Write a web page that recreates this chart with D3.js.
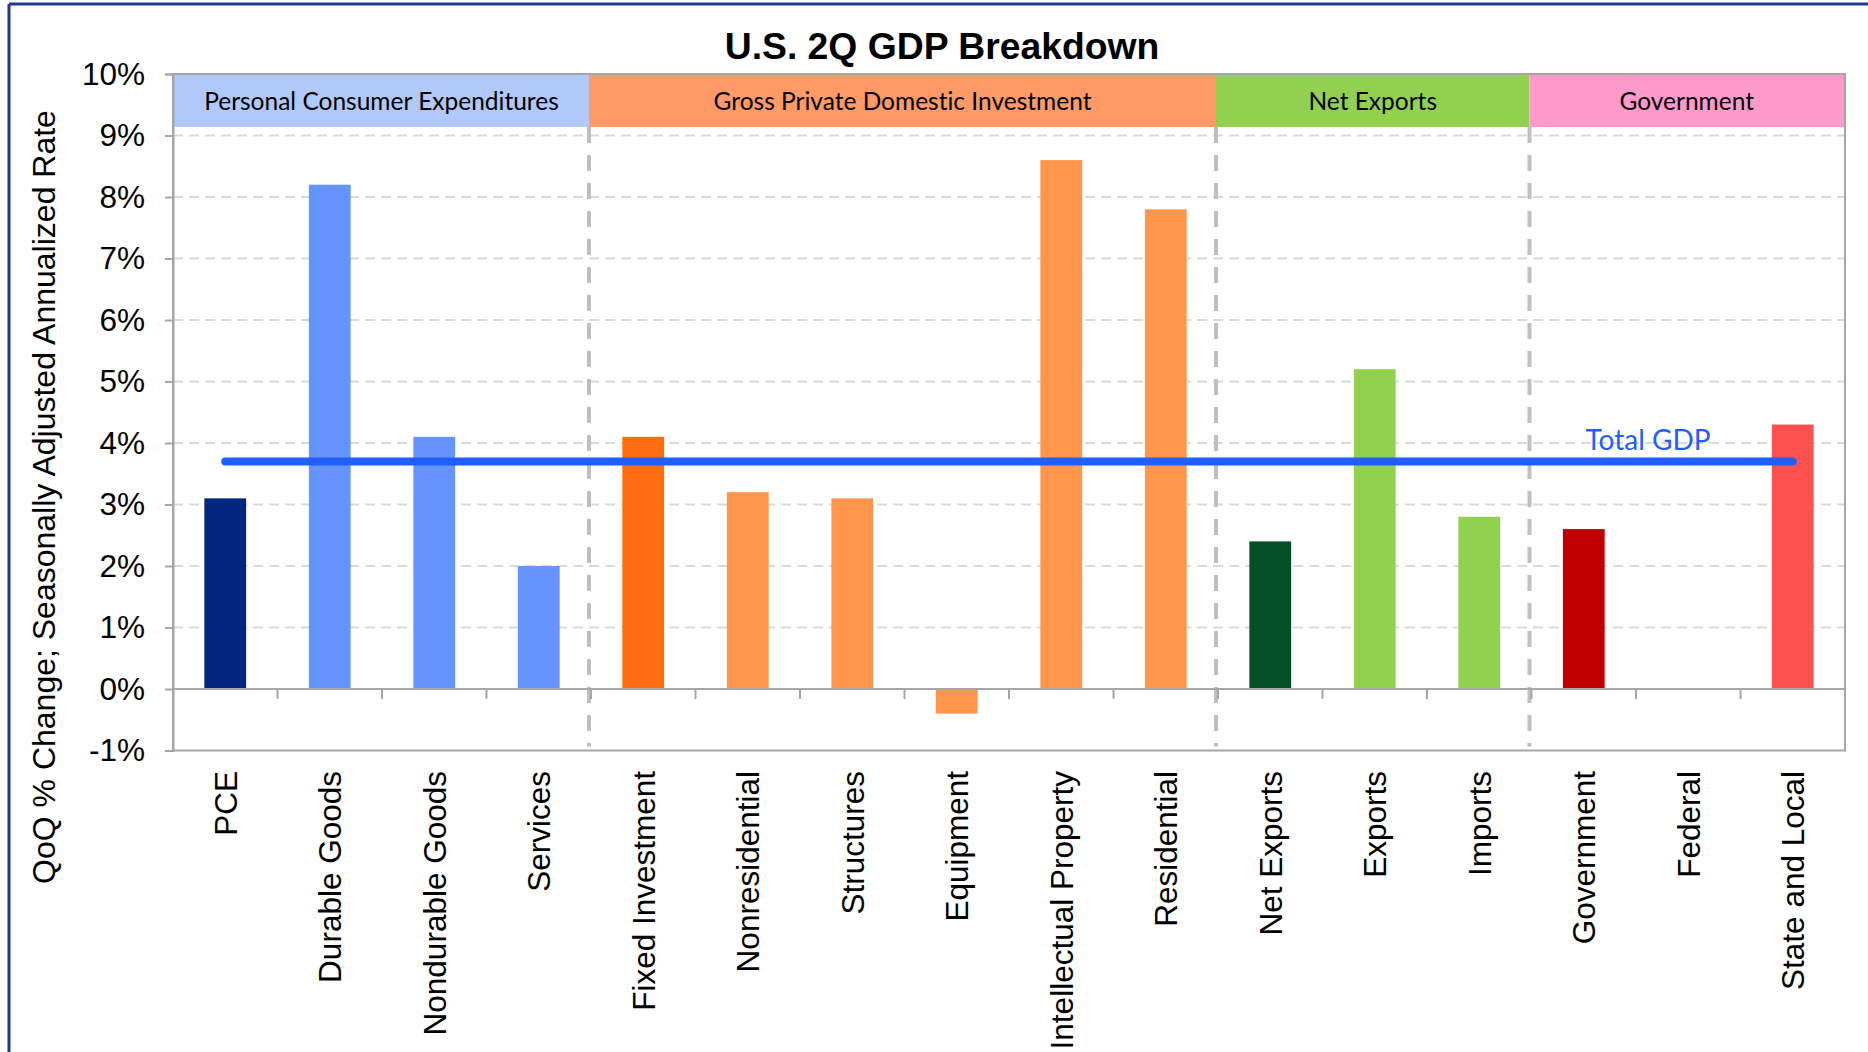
<!DOCTYPE html>
<html>
<head>
<meta charset="utf-8">
<script src="https://cdn.jsdelivr.net/npm/d3@7"></script>
<style>
  html, body { margin: 0; padding: 0; background: #fff; }
  svg { display: block; }
  text { font-variant-ligatures: none; font-feature-settings: "liga" 0, "dlig" 0; }
</style>
</head>
<body>
<svg id="chart" width="1868" height="1052"></svg>
<script>
const categories = ["PCE", "Durable Goods", "Nondurable Goods", "Services",
  "Fixed Investment", "Nonresidential", "Structures", "Equipment", "Intellectual Property", "Residential",
  "Net Exports", "Exports", "Imports",
  "Government", "Federal", "State and Local"];
const values = [3.1, 8.2, 4.1, 2.0, 4.1, 3.2, 3.1, -0.4, 8.6, 7.8, 2.4, 5.2, 2.8, 2.6, 0.0, 4.3];
const barColors = ["#00267F", "#6694FF", "#6694FF", "#6694FF",
  "#FF6C10", "#FF964C", "#FF964C", "#FF964C", "#FF964C", "#FF964C",
  "#035026", "#92D050", "#92D050",
  "#C00000", "#FF5050", "#FF5050"];
const groupNames = ["Personal Consumer Expenditures", "Gross Private Domestic Investment", "Net Exports", "Government"];
const groupSizes = [4, 6, 3, 3];
const groupColors = ["#B0C8FA", "#FF9966", "#92D050", "#FF99CC"];
const yTicks = [-1, 0, 1, 2, 3, 4, 5, 6, 7, 8, 9, 10];
const totalGDP = 3.7;
const titleText = "U.S. 2Q GDP Breakdown";
const yTitle = "QoQ % Change; Seasonally Adjusted Annualized Rate";
const lineLabel = "Total GDP";

(function () {
const svg = d3.select("#chart");
const mLeft = 173, mRight = 1845, mTop = 74, mBottom = 750.5;

const x = d3.scaleBand().domain(categories).range([mLeft, mRight]).paddingInner(0.6).paddingOuter(0.3);
const y = d3.scaleLinear().domain([-1, 10]).range([mBottom, mTop]);
const step = x.step();

// outer frame (top & left)
svg.append("line").attr("x1", 9).attr("x2", 1868).attr("y1", 4).attr("y2", 4)
  .attr("stroke", "#1F3C8F").attr("stroke-width", 3);
svg.append("line").attr("x1", 9).attr("x2", 9).attr("y1", 4).attr("y2", 1052)
  .attr("stroke", "#1F3C8F").attr("stroke-width", 3);

// title
svg.append("text").attr("x", 942).attr("y", 59).attr("text-anchor", "middle")
  .attr("font-family", "Liberation Sans, Arial, sans-serif").attr("font-weight", "bold")
  .attr("font-size", 37.3).attr("fill", "#000").text(titleText);

// gridlines
svg.append("g").selectAll("line").data(yTicks.filter(d => d > 0 && d < 10)).join("line")
  .attr("x1", mLeft).attr("x2", mRight).attr("y1", d => y(d)).attr("y2", d => y(d))
  .attr("stroke", "#D9D9D9").attr("stroke-width", 2).attr("stroke-dasharray", "10,6");

// group separators (dashed verticals)
let cum = 0;
const bounds = groupSizes.map(s => { const start = cum; cum += s; return { start, end: cum }; });
svg.append("g").selectAll("line").data(bounds.slice(1)).join("line")
  .attr("x1", d => mLeft + d.start * step - 2).attr("x2", d => mLeft + d.start * step - 2)
  .attr("y1", mTop + 53).attr("y2", mBottom - 4)
  .attr("stroke", "#BFBFBF").attr("stroke-width", 4).attr("stroke-dasharray", "16,12");

// plot border
svg.append("rect").attr("x", mLeft).attr("y", mTop).attr("width", mRight - mLeft).attr("height", mBottom - mTop)
  .attr("fill", "none").attr("stroke", "#A6A6A6").attr("stroke-width", 2);

// group headers
const hdr = svg.append("g");
bounds.forEach((b, i) => {
  const x0 = mLeft + b.start * step + (i === 0 ? 1 : -2), x1 = mLeft + b.end * step - (i === bounds.length - 1 ? 1 : 2);
  hdr.append("rect").attr("x", x0).attr("y", mTop + 1).attr("width", x1 - x0).attr("height", 52)
    .attr("fill", groupColors[i]);
  hdr.append("text").attr("x", (x0 + x1) / 2).attr("y", mTop + 36).attr("text-anchor", "middle")
    .attr("font-family", "Lato, sans-serif").attr("font-size", 24.5).attr("fill", "#000")
    .text(groupNames[i]);
});

// bars
svg.append("g").selectAll("rect").data(categories).join("rect")
  .attr("x", d => x(d))
  .attr("width", x.bandwidth())
  .attr("y", (d, i) => y(Math.max(0, values[i])))
  .attr("height", (d, i) => Math.abs(y(values[i]) - y(0)))
  .attr("fill", (d, i) => barColors[i]);

// zero axis line & category ticks
svg.append("line").attr("x1", mLeft).attr("x2", mRight).attr("y1", y(0)).attr("y2", y(0))
  .attr("stroke", "#A6A6A6").attr("stroke-width", 2);
svg.append("g").selectAll("line").data(d3.range(categories.length + 1)).join("line")
  .attr("x1", i => mLeft + i * step).attr("x2", i => mLeft + i * step)
  .attr("y1", y(0)).attr("y2", y(0) + 10)
  .attr("stroke", "#A6A6A6").attr("stroke-width", 2);

// y axis
const yAxis = svg.append("g").attr("transform", `translate(${mLeft},0)`)
  .call(d3.axisLeft(y).tickValues(yTicks).tickFormat(d => d + "%").tickSize(8).tickPadding(20));
yAxis.select(".domain").attr("stroke", "#A6A6A6").attr("stroke-width", 2);
yAxis.selectAll(".tick line").attr("stroke", "#A6A6A6").attr("stroke-width", 2);
yAxis.selectAll(".tick text").attr("font-family", "Liberation Sans, Arial, sans-serif")
  .attr("font-size", 31.5).attr("fill", "#000");

// total GDP line
svg.append("line")
  .attr("x1", x(categories[0]) + x.bandwidth() / 2)
  .attr("x2", x(categories[categories.length - 1]) + x.bandwidth() / 2)
  .attr("y1", y(totalGDP)).attr("y2", y(totalGDP))
  .attr("stroke", "#1F5EFF").attr("stroke-width", 8).attr("stroke-linecap", "round");
svg.append("text").attr("x", 1648).attr("y", y(totalGDP) - 11).attr("text-anchor", "middle")
  .attr("font-family", "Lato, sans-serif").attr("font-size", 28).attr("fill", "#1F5EFF")
  .text(lineLabel);

// category labels
svg.append("g").selectAll("text").data(categories).join("text")
  .attr("transform", d => `translate(${x(d) + x.bandwidth() / 2},771) rotate(-90)`)
  .attr("text-anchor", "end").attr("dy", "0.36em")
  .attr("font-family", "Liberation Sans, Arial, sans-serif").attr("font-size", 31.5).attr("fill", "#000")
  .text(d => d);

// y title
svg.append("text").attr("transform", "translate(43,497) rotate(-90)")
  .attr("text-anchor", "middle").attr("dy", "0.36em")
  .attr("font-family", "Liberation Sans, Arial, sans-serif").attr("font-size", 32).attr("fill", "#000")
  .text(yTitle);
})();
</script>
</body>
</html>
